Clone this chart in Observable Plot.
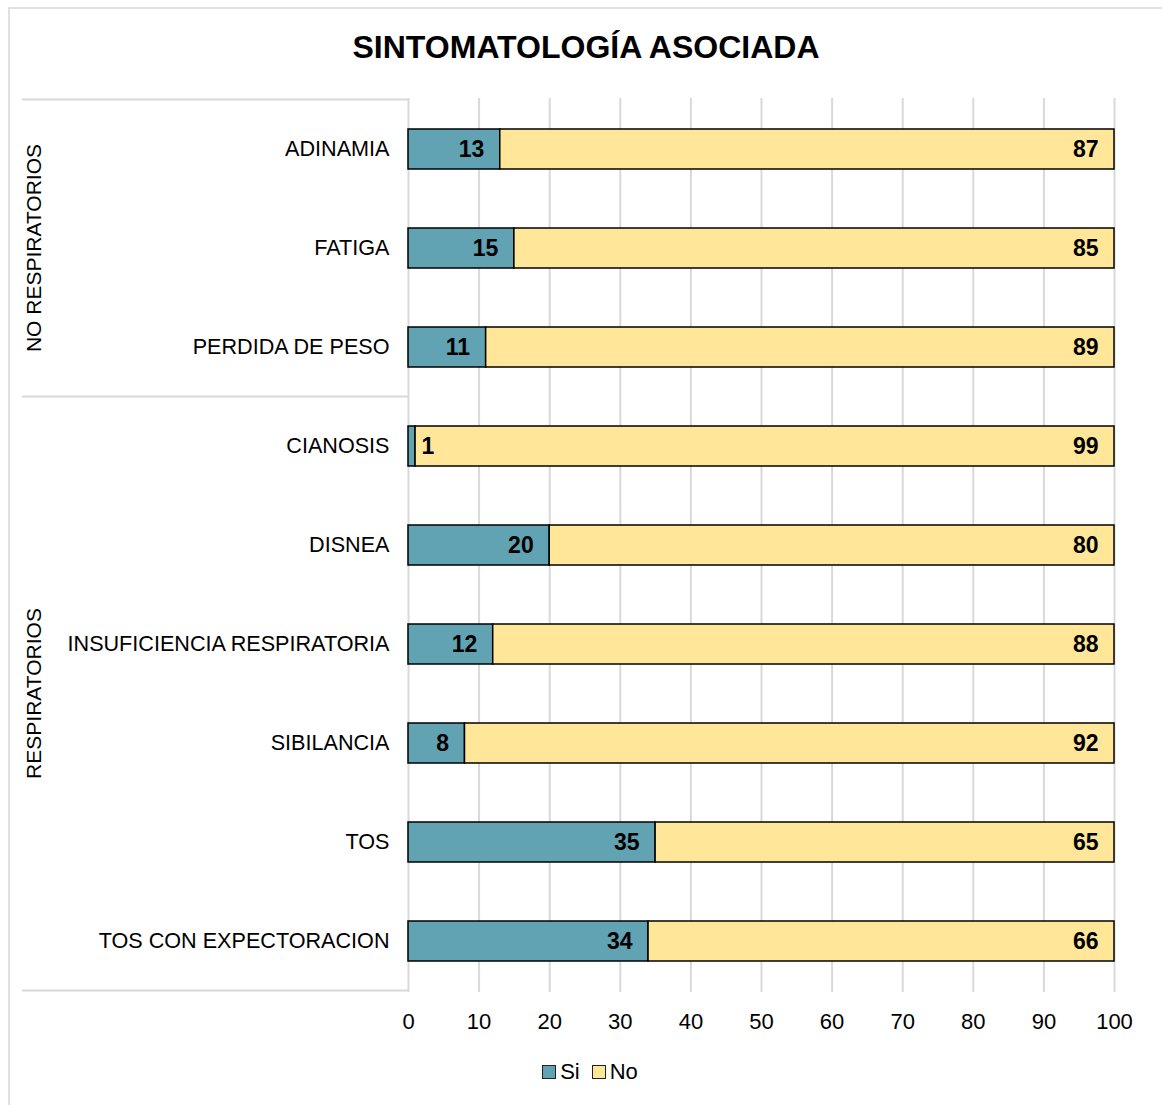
<!DOCTYPE html>
<html>
<head>
<meta charset="utf-8">
<script src="https://cdn.jsdelivr.net/npm/d3@7"></script>
<script src="https://cdn.jsdelivr.net/npm/@observablehq/plot@0.6"></script>
<style>
  html, body { margin: 0; padding: 0; background: #fff; }
  body { width: 1162px; height: 1105px; position: relative; overflow: hidden; font-family: "Liberation Sans", Arial, sans-serif; }
  #frame { position: absolute; left: 8px; top: 7px; width: 1160px; height: 1120px; border: 2px solid #e0e0e0; box-sizing: border-box; }
  #title { position: absolute; left: 0; top: 27px; width: 1172px; text-align: center; font-weight: bold; font-size: 32px; line-height: 40px; color: #000; }
  #chart { position: absolute; left: 0; top: 80px; }
  #legend { position: absolute; top: 1059px; left: 0; width: 1180px; display: flex; justify-content: center; align-items: center; font-size: 22px; color: #000; }
  .item { display: flex; align-items: center; margin: 0 6px; }
  .sw { width: 12px; height: 12px; border: 1.5px solid #222; margin-right: 4px; }
</style>
</head>
<body>
<div id="frame"></div>
<div id="title">SINTOMATOLOGÍA ASOCIADA</div>
<div id="chart"></div>
<div id="legend"></div>
<script>
const categories = ["ADINAMIA", "FATIGA", "PERDIDA DE PESO", "CIANOSIS", "DISNEA", "INSUFICIENCIA RESPIRATORIA", "SIBILANCIA", "TOS", "TOS CON EXPECTORACION"];
const groups = ["NO RESPIRATORIOS", "NO RESPIRATORIOS", "NO RESPIRATORIOS", "RESPIRATORIOS", "RESPIRATORIOS", "RESPIRATORIOS", "RESPIRATORIOS", "RESPIRATORIOS", "RESPIRATORIOS"];
const groupNames = ["NO RESPIRATORIOS", "RESPIRATORIOS"];
const siValues = [13, 15, 11, 1, 20, 12, 8, 35, 34];
const noValues = [87, 85, 89, 99, 80, 88, 92, 65, 66];
const seriesNames = ["Si", "No"];
const seriesColors = ["#61a2b3", "#ffe699"];
const xTicks = [0, 10, 20, 30, 40, 50, 60, 70, 80, 90, 100];

const rows = [];
categories.forEach((c, i) => {
  rows.push({cat: c, serie: "Si", value: siValues[i]});
  rows.push({cat: c, serie: "No", value: noValues[i]});
});

const W = 1162, H = 960;
const mL = 408, mR = 48, mT = 18, mB = 48;

const plot = Plot.plot({
  width: W,
  height: H,
  marginLeft: mL,
  marginRight: mR,
  marginTop: mT,
  marginBottom: mB,
  style: {fontFamily: "'Liberation Sans', Arial, sans-serif", color: "#000", background: "transparent"},
  x: {domain: [0, 100]},
  y: {domain: categories, paddingInner: 0.6, paddingOuter: 0.3},
  color: {domain: seriesNames, range: seriesColors},
  marks: [
    Plot.gridX(xTicks, {stroke: "#d9d9d9", strokeOpacity: 1, strokeWidth: 2}),
    Plot.barX(rows, Plot.stackX({x: "value", y: "cat", z: "serie", fill: "serie", stroke: "#000", strokeWidth: 1.5})),
    Plot.text(rows, Plot.stackX2({x: "value", y: "cat", z: "serie", text: d => d.value >= 3 ? String(d.value) : "", textAnchor: "end", dx: -16, fontWeight: "bold", fontSize: 23, fill: "#000"})),
    Plot.text(rows, Plot.stackX2({x: "value", y: "cat", z: "serie", text: d => d.value < 3 ? String(d.value) : "", textAnchor: "start", dx: 6, fontWeight: "bold", fontSize: 23, fill: "#000"})),
    Plot.axisX({ticks: xTicks, tickSize: 0, tickPadding: 21, fontSize: 22, label: null, tickFormat: d => String(d)}),
    Plot.axisY({tickSize: 0, tickPadding: 19, fontSize: 21.6, label: null})
  ]
});

document.getElementById("chart").appendChild(plot);

// Group separators and labels, positioned from the y scale
const y = plot.scale("y");
const svg = d3.select(plot);
const bw = y.bandwidth;
const step = y.step;
const centerOf = c => y.apply(c) + bw / 2;
const lineX1 = 22, lineX2 = mL;
const g = svg.append("g");
const boundaries = [];
boundaries.push(centerOf(categories[0]) - step / 2);
for (let i = 1; i < categories.length; i++) {
  if (groups[i] !== groups[i - 1]) boundaries.push((centerOf(categories[i]) + centerOf(categories[i - 1])) / 2);
}
boundaries.push(centerOf(categories[categories.length - 1]) + step / 2);
boundaries.forEach(b => {
  g.append("line").attr("x1", lineX1).attr("x2", lineX2).attr("y1", b).attr("y2", b)
    .attr("stroke", "#d9d9d9").attr("stroke-width", 2);
});
groupNames.forEach(name => {
  const cs = categories.filter((c, i) => groups[i] === name);
  const top = centerOf(cs[0]) - step / 2;
  const bottom = centerOf(cs[cs.length - 1]) + step / 2;
  const cy = (top + bottom) / 2;
  g.append("text")
    .attr("transform", `translate(35,${cy}) rotate(-90)`)
    .attr("text-anchor", "middle")
    .attr("dominant-baseline", "middle")
    .attr("font-size", 21)
    .attr("fill", "#000")
    .text(name);
});

// Legend
const legend = document.getElementById("legend");
seriesNames.forEach((s, i) => {
  const item = document.createElement("div");
  item.className = "item";
  const sw = document.createElement("div");
  sw.className = "sw";
  sw.style.background = seriesColors[i];
  const t = document.createElement("span");
  t.textContent = s;
  item.appendChild(sw);
  item.appendChild(t);
  legend.appendChild(item);
});
</script>
</body>
</html>
